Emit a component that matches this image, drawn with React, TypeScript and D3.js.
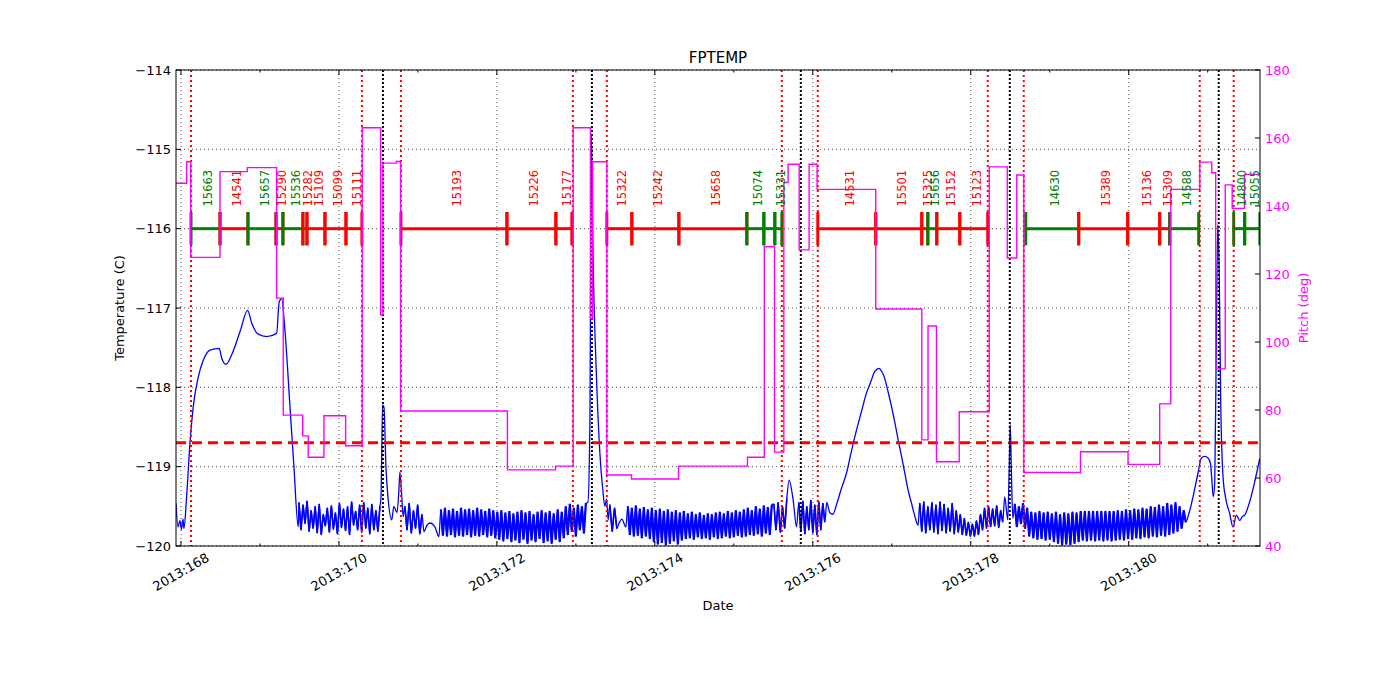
import React from 'react';
import * as d3 from 'd3';

// FPTEMP with pitch, obsid bars, radzone (red) and perigee (black) markers.

const DAY_RANGE = [167.937, 181.662];
const TEMP_RANGE = [-120, -114];
const PITCH_RANGE = [40, 180];
const TEMP_LIMIT = -118.7;

const X_MAJOR = [168, 170, 172, 174, 176, 178, 180];
const X_MINOR = [169, 171, 173, 175, 177, 179, 181];
const TEMP_TICKS = [-120, -119, -118, -117, -116, -115, -114];
const PITCH_TICKS = [40, 60, 80, 100, 120, 140, 160, 180];

// smooth stretches and spikes of the temperature trace [day, degC]
const TEMP_POINTS: [number, number][] = [
  [167.937, -119.46], [167.962, -119.76], [167.987, -119.68], [168.006, -119.79], [168.025, -119.66],
  [168.038, -119.78], [168.07, -119.4], [168.114, -118.7], [168.156, -118.24], [168.219, -117.87],
  [168.282, -117.66], [168.367, -117.53], [168.485, -117.51], [168.515, -117.63], [168.57, -117.71],
  [168.642, -117.59], [168.747, -117.3], [168.844, -117.03], [168.895, -117.19], [168.978, -117.33],
  [169.085, -117.36], [169.211, -117.32], [169.244, -116.92], [169.275, -116.88], [169.316, -117.28],
  [169.38, -118.24], [169.43, -119.0], [169.485, -119.76],
  [170.532, -119.4], [170.553, -118.22], [170.57, -118.25], [170.595, -119.0], [170.624, -119.42],
  [170.668, -119.67], [170.696, -119.5], [170.735, -119.58], [170.759, -119.3], [170.772, -119.07],
  [170.791, -119.3], [170.814, -119.63],
  [171.076, -119.82], [171.114, -119.74], [171.152, -119.71], [171.215, -119.76], [171.266, -119.88],
  [173.152, -119.45], [173.177, -118.5], [173.196, -114.82], [173.215, -116.2], [173.262, -117.9],
  [173.304, -118.83], [173.342, -119.3], [173.367, -119.5], [173.389, -119.41], [173.409, -119.67],
  [173.544, -119.72], [173.582, -119.66], [173.633, -119.76],
  [175.7, -119.17], [175.751, -119.42], [175.794, -119.76],
  [176.177, -119.45], [176.215, -119.58], [176.253, -119.6], [176.3, -119.48], [176.354, -119.3],
  [176.427, -119.08], [176.49, -118.8], [176.553, -118.54], [176.617, -118.3], [176.68, -118.07],
  [176.734, -117.93], [176.785, -117.8], [176.839, -117.76], [176.873, -117.8], [176.911, -117.89],
  [176.949, -118.04], [176.996, -118.24], [177.038, -118.44], [177.08, -118.66], [177.123, -118.87],
  [177.165, -119.08], [177.203, -119.28], [177.249, -119.46], [177.291, -119.62], [177.333, -119.74],
  [178.43, -119.38], [178.468, -119.67], [178.487, -119.0], [178.5, -118.47], [178.513, -119.0],
  [178.532, -119.65],
  [180.759, -119.6], [180.814, -119.38], [180.877, -119.08], [180.92, -118.89], [180.962, -118.87],
  [181.004, -118.89], [181.035, -118.96], [181.051, -119.15], [181.07, -119.38], [181.089, -119.2],
  [181.108, -117.5], [181.127, -115.95], [181.146, -116.6], [181.165, -118.2], [181.194, -119.13],
  [181.228, -119.4], [181.278, -119.59], [181.32, -119.76], [181.363, -119.61], [181.405, -119.68],
  [181.437, -119.63], [181.468, -119.61], [181.532, -119.44], [181.595, -119.19], [181.658, -118.9],
];

// heater cycling stretches, evenly sampled between the run start and end
const OSC_A = [-119.45, -119.8, -119.48, -119.72, -119.43, -119.82, -119.55, -119.78, -119.5, -119.84,
  -119.47, -119.86, -119.6, -119.75, -119.52, -119.83, -119.49, -119.79, -119.58, -119.85,
  -119.46, -119.77, -119.53, -119.81, -119.5, -119.86, -119.44, -119.74, -119.56, -119.8,
  -119.48, -119.83, -119.45, -119.78, -119.52, -119.85, -119.47, -119.8, -119.55, -119.82, -119.5];
const OSC_B = [-119.5, -119.8, -119.46, -119.84, -119.55, -119.78, -119.48, -119.85, -119.6];
const OSC_C = [-119.54, -119.87, -119.52, -119.88, -119.55, -119.86, -119.53, -119.89, -119.56, -119.87,
  -119.52, -119.88, -119.54, -119.86, -119.53, -119.89, -119.55, -119.87, -119.52, -119.88,
  -119.54, -119.86, -119.56, -119.89, -119.53, -119.87, -119.55, -119.9, -119.57, -119.92,
  -119.55, -119.94, -119.58, -119.91, -119.56, -119.95, -119.59, -119.93, -119.57, -119.96,
  -119.55, -119.92, -119.58, -119.97, -119.56, -119.93, -119.6, -119.95, -119.57, -119.91,
  -119.55, -119.96, -119.58, -119.94, -119.56, -119.97, -119.59, -119.92, -119.54, -119.95,
  -119.57, -119.9, -119.5, -119.86, -119.47, -119.82, -119.52, -119.88, -119.48, -119.8,
  -119.5, -119.84, -119.46];
const OSC_D = [-119.48, -119.82, -119.52, -119.78];
const OSC_E = [-119.5, -119.86, -119.52, -119.88, -119.49, -119.87, -119.53, -119.9, -119.51, -119.88,
  -119.54, -119.91, -119.52, -119.95, -119.55, -119.98, -119.53, -119.96, -119.56, -119.99,
  -119.54, -119.97, -119.57, -119.94, -119.55, -119.98, -119.58, -119.93, -119.56, -119.91,
  -119.59, -119.9, -119.57, -119.92, -119.6, -119.89, -119.58, -119.91, -119.61, -119.9,
  -119.59, -119.92, -119.6, -119.89, -119.58, -119.91, -119.57, -119.9, -119.59, -119.88,
  -119.56, -119.9, -119.58, -119.89, -119.55, -119.87, -119.57, -119.89, -119.54, -119.88,
  -119.52, -119.86, -119.55, -119.87, -119.5, -119.85, -119.53, -119.88, -119.49, -119.84,
  -119.51, -119.86, -119.48];
const OSC_F = [-119.47, -119.8, -119.45, -119.83, -119.5, -119.78, -119.4];
const OSC_G = [-119.45, -119.82, -119.43, -119.85, -119.5, -119.8, -119.42, -119.84, -119.48, -119.86,
  -119.44, -119.8, -119.46, -119.7];
const OSC_H = [-119.46, -119.82, -119.44, -119.84, -119.5, -119.8, -119.45, -119.83, -119.48, -119.85,
  -119.44, -119.81, -119.47, -119.84, -119.52, -119.82, -119.46, -119.85, -119.55, -119.83,
  -119.6, -119.86, -119.65, -119.87, -119.7, -119.88, -119.72, -119.88, -119.68, -119.86,
  -119.6, -119.8, -119.52, -119.78, -119.5, -119.76, -119.53, -119.75, -119.49, -119.77,
  -119.55, -119.7];
const OSC_I = [-119.47, -119.76, -119.5, -119.72, -119.46, -119.78, -119.52, -119.88,
  -119.57, -119.9, -119.58, -119.92, -119.56, -119.91, -119.58, -119.93, -119.57, -119.92,
  -119.59, -119.95, -119.57, -119.97, -119.6, -119.99, -119.58, -119.98, -119.59, -119.99,
  -119.57, -119.97, -119.58, -119.95, -119.56, -119.93, -119.56, -119.94, -119.56, -119.93,
  -119.56, -119.94, -119.56, -119.93, -119.56, -119.94, -119.56, -119.93, -119.56, -119.94,
  -119.56, -119.93, -119.55, -119.92, -119.56, -119.93, -119.54, -119.91, -119.55, -119.92,
  -119.53, -119.9, -119.54, -119.91, -119.52, -119.89, -119.53, -119.9, -119.5, -119.88,
  -119.51, -119.89, -119.48, -119.87, -119.5, -119.88, -119.46, -119.86, -119.48, -119.84,
  -119.45, -119.82, -119.5, -119.78, -119.55, -119.7];

const OSC_RUNS: { start: number; end: number; values: number[]; dense: boolean }[] = [
  { start: 169.494, end: 170.519, values: OSC_A, dense: false },
  { start: 170.835, end: 171.051, values: OSC_B, dense: false },
  { start: 171.291, end: 173.127, values: OSC_C, dense: true },
  { start: 173.43, end: 173.519, values: OSC_D, dense: false },
  { start: 173.658, end: 175.481, values: OSC_E, dense: true },
  { start: 175.506, end: 175.671, values: OSC_F, dense: false },
  { start: 175.823, end: 176.152, values: OSC_G, dense: false },
  { start: 177.354, end: 178.405, values: OSC_H, dense: false },
  { start: 178.557, end: 180.722, values: OSC_I, dense: true },
];

// pitch levels, each holds until the next day
const PITCH_DAYS = [167.937, 168.072, 168.123, 168.494, 168.839, 169.211, 169.295, 169.541, 169.611, 169.81,
  170.085, 170.295, 170.528, 170.557, 170.728, 170.781, 172.133, 172.743, 172.966, 173.184,
  173.213, 173.392, 173.705, 174.3, 175.173, 175.386, 175.516, 175.633, 175.687, 175.827,
  175.953, 176.054, 176.797, 177.38, 177.459, 177.566, 177.854, 178.234, 178.462, 178.582,
  178.671, 179.389, 179.991, 180.392, 180.532, 180.899, 181.051, 181.101, 181.222, 181.31,
  181.465, 181.662];
const PITCH_DEG = [146.7, 153.0, 124.9, 150.1, 151.3, 112.9, 78.5, 72.4, 66.1, 78.3,
  69.5, 163.0, 108.0, 152.6, 153.1, 79.7, 62.4, 63.5, 163.0, 107.0,
  153.0, 60.9, 59.7, 63.5, 66.1, 128.0, 67.6, 146.9, 152.3, 127.1,
  152.3, 144.9, 109.7, 71.2, 104.7, 64.8, 79.5, 151.5, 124.7, 149.1,
  61.6, 67.7, 64.0, 81.8, 144.9, 152.9, 149.8, 92.1, 146.2, 139.3,
  149.3, 149.3];

const OBS_IDS = ['15663', '14541', '15657', '15290', '15536', '15282', '15109', '15099', '15111', '15193',
  '15226', '15177', '15322', '15242', '15658', '15074', '', '15331', '14531', '15501',
  '15325', '15656', '15152', '15123', '14630', '15389', '15136', '15309', '14588', '14800', '15055'];
const OBS_START = [168.127, 168.494, 168.848, 169.203, 169.291, 169.544, 169.595, 169.823, 170.089, 170.785,
  172.127, 172.747, 173.392, 173.709, 174.304, 175.165, 175.38, 175.519, 176.063, 176.797,
  177.38, 177.456, 177.57, 177.861, 178.696, 179.367, 179.987, 180.392, 180.519, 181.329, 181.468];
const OBS_STOP = [168.494, 168.848, 169.203, 169.291, 169.544, 169.595, 169.823, 170.089, 170.291, 172.127,
  172.747, 172.949, 173.709, 174.304, 175.165, 175.38, 175.519, 175.608, 176.797, 177.38,
  177.456, 177.57, 177.861, 178.215, 179.367, 179.987, 180.392, 180.519, 180.886, 181.468, 181.66];
const OBS_KIND = ['g', 'r', 'g', 'r', 'g', 'r', 'r', 'r', 'r', 'r',
  'r', 'r', 'r', 'r', 'r', 'g', 'g', 'g', 'r', 'r',
  'r', 'g', 'r', 'r', 'g', 'r', 'r', 'r', 'g', 'g', 'g'];

const RADZONE_DAYS = [168.127, 170.291, 170.785, 172.962, 173.392, 175.608, 176.063, 178.215, 178.671, 180.899, 181.329];
const PERIGEE_DAYS = [170.557, 173.203, 175.848, 178.494, 181.139];

const W = 1400;
const H = 700;
const M = { left: 176, right: 1260, top: 70, bottom: 546 };
const FONT = 'DejaVu Sans, sans-serif';

type Pt = [number, number];

export default function App() {
  const x = d3.scaleLinear().domain(DAY_RANGE).range([M.left, M.right]);
  const y = d3.scaleLinear().domain(TEMP_RANGE).range([M.bottom, M.top]);
  const y2 = d3.scaleLinear().domain(PITCH_RANGE).range([M.bottom, M.top]);

  const runPoints = OSC_RUNS.map((run) =>
    run.values.map((v, i) => [run.start + (i * (run.end - run.start)) / (run.values.length - 1), v] as Pt)
  );
  const temp = [...TEMP_POINTS, ...runPoints.flat()].sort((a, b) => a[0] - b[0]);

  const tempLine = d3.line<Pt>().x((d) => x(d[0])).y((d) => y(d[1])).curve(d3.curveMonotoneX);
  const runLine = d3.line<Pt>().x((d) => x(d[0])).y((d) => y(d[1]));
  const pitchLine = d3
    .line<number>()
    .x((_, i) => x(PITCH_DAYS[i]))
    .y((d) => y2(d))
    .curve(d3.curveStepAfter);

  const obsColor = (k: string) => (k === 'g' ? '#008000' : '#ff0000');
  const barY = y(-116);
  const tickTop = y(-115.79);
  const tickBot = y(-116.21);

  return (
    <svg
      width={W}
      height={H}
      style={{ position: 'absolute', left: 0, top: 0, background: '#fff' }}
      fontFamily={FONT}
    >
      <defs>
        <clipPath id="plot">
          <rect x={M.left} y={M.top} width={M.right - M.left} height={M.bottom - M.top} />
        </clipPath>
      </defs>
      <rect width={W} height={H} fill="#fff" />

      {/* grid */}
      <g stroke="#000" strokeWidth={0.7} strokeDasharray="1,3">
        {X_MAJOR.map((d) => (
          <line key={'gx' + d} x1={x(d)} x2={x(d)} y1={M.top} y2={M.bottom} />
        ))}
        {TEMP_TICKS.map((d) => (
          <line key={'gy' + d} x1={M.left} x2={M.right} y1={y(d)} y2={y(d)} />
        ))}
      </g>

      <g clipPath="url(#plot)">
        <path d={tempLine(temp) || ''} fill="none" stroke="#0000ff" strokeWidth={1.3} />
        {/* heater cycling is sampled far finer than the picture, so it reads as a filled band */}
        {runPoints.map((pts, i) => (
          <path
            key={'run' + i}
            d={runLine(pts) || ''}
            fill="none"
            stroke="#0000ff"
            strokeWidth={OSC_RUNS[i].dense ? 2.2 : 1.6}
            strokeLinejoin="miter"
          />
        ))}

        <line x1={M.left} x2={M.right} y1={y(TEMP_LIMIT)} y2={y(TEMP_LIMIT)} stroke="#ff0000" strokeWidth={3} strokeDasharray="10,6" />

        {OBS_IDS.map((id, i) => {
          const c = obsColor(OBS_KIND[i]);
          const x0 = x(OBS_START[i]);
          const x1 = x(OBS_STOP[i]);
          return (
            <g key={'ob' + i} stroke={c} strokeWidth={3}>
              <line x1={x0} x2={x1} y1={barY} y2={barY} />
              <line x1={x0} x2={x0} y1={tickTop} y2={tickBot} />
              <line x1={x1} x2={x1} y1={tickTop} y2={tickBot} />
            </g>
          );
        })}

        {RADZONE_DAYS.map((d, i) => (
          <line key={'rz' + i} x1={x(d)} x2={x(d)} y1={M.top} y2={M.bottom} stroke="#ff0000" strokeWidth={2} strokeDasharray="2,3" />
        ))}
        {PERIGEE_DAYS.map((d, i) => (
          <line key={'pg' + i} x1={x(d)} x2={x(d)} y1={M.top} y2={M.bottom} stroke="#000" strokeWidth={2} strokeDasharray="2,2" />
        ))}

        <path d={pitchLine(PITCH_DEG) || ''} fill="none" stroke="#ff00ff" strokeWidth={1.4} />
      </g>

      {OBS_IDS.map((id, i) => {
        const mid = x((OBS_START[i] + OBS_STOP[i]) / 2) + 3;
        return (
          <text
            key={'ol' + i}
            transform={`translate(${mid},${y(-115.72)}) rotate(-90)`}
            fontSize={11.5}
            fill={obsColor(OBS_KIND[i])}
            dominantBaseline="central"
          >
            {id}
          </text>
        );
      })}

      {/* frame */}
      <rect x={M.left} y={M.top} width={M.right - M.left} height={M.bottom - M.top} fill="none" stroke="#000" strokeWidth={1} />

      {/* ticks point inward, matplotlib classic style */}
      <g stroke="#000" strokeWidth={1}>
        {X_MAJOR.map((d) => (
          <g key={'tx' + d}>
            <line x1={x(d)} x2={x(d)} y1={M.bottom} y2={M.bottom - 5} />
            <line x1={x(d)} x2={x(d)} y1={M.top} y2={M.top + 5} />
          </g>
        ))}
        {X_MINOR.map((d) => (
          <g key={'mx' + d}>
            <line x1={x(d)} x2={x(d)} y1={M.bottom} y2={M.bottom - 2.5} />
            <line x1={x(d)} x2={x(d)} y1={M.top} y2={M.top + 2.5} />
          </g>
        ))}
        {TEMP_TICKS.map((d) => (
          <line key={'ty' + d} x1={M.left} x2={M.left + 5} y1={y(d)} y2={y(d)} />
        ))}
        {PITCH_TICKS.map((d) => (
          <line key={'tp' + d} x1={M.right} x2={M.right - 5} y1={y2(d)} y2={y2(d)} />
        ))}
      </g>

      {X_MAJOR.map((d) => (
        <text
          key={'lx' + d}
          transform={`translate(${x(d)},${572}) rotate(-30)`}
          textAnchor="middle"
          dominantBaseline="central"
          fontSize={13}
        >
          {`2013:${d}`}
        </text>
      ))}
      {TEMP_TICKS.map((d) => (
        <text key={'ly' + d} x={M.left - 5} y={y(d)} textAnchor="end" dominantBaseline="central" fontSize={13}>
          {d3.format('d')(d).replace('-', '\u2212')}
        </text>
      ))}
      {PITCH_TICKS.map((d) => (
        <text key={'lp' + d} x={M.right + 5} y={y2(d)} dominantBaseline="central" fontSize={13} fill="#ff00ff">
          {d}
        </text>
      ))}

      <text x={(M.left + M.right) / 2} y={58} textAnchor="middle" dominantBaseline="central" fontSize={15}>
        FPTEMP
      </text>
      <text x={(M.left + M.right) / 2} y={605} textAnchor="middle" dominantBaseline="central" fontSize={13}>
        Date
      </text>
      <text transform={`translate(119,${(M.top + M.bottom) / 2}) rotate(-90)`} textAnchor="middle" dominantBaseline="central" fontSize={13}>
        Temperature (C)
      </text>
      <text
        transform={`translate(1303,${(M.top + M.bottom) / 2}) rotate(-90)`}
        textAnchor="middle"
        dominantBaseline="central"
        fontSize={13}
        fill="#ff00ff"
      >
        Pitch (deg)
      </text>
    </svg>
  );
}
